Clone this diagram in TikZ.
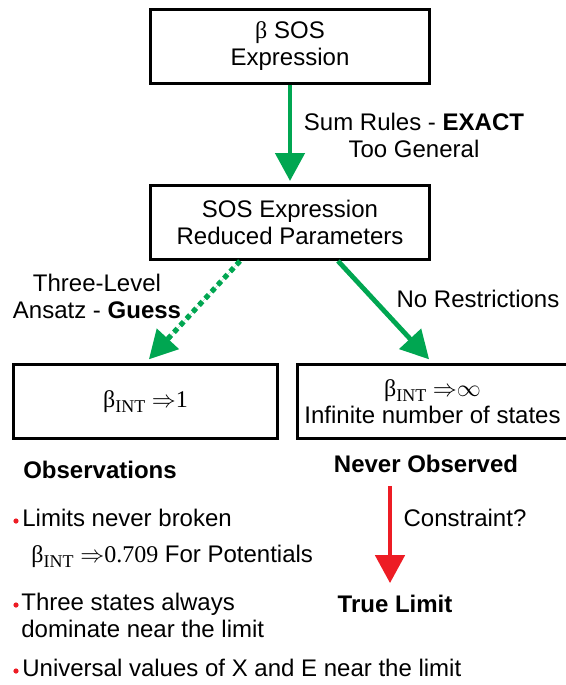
\documentclass[tikz,border=0pt]{standalone}
\usepackage{fontspec}
\setmainfont{Liberation Sans}
\newfontfamily\serifgr{Liberation Serif}
\usetikzlibrary{arrows.meta}

\definecolor{verde}{RGB}{0,166,81}
\definecolor{rojo}{RGB}{237,28,36}

% beta con subindice INT
\newcommand{\bint}{{\serifgr β\raisebox{-0.45ex}{\fontsize{9}{9}\selectfont INT}}}

\tikzset{
  texto/.style={font=\fontsize{12}{13.5}\selectfont, align=center},
  negrita/.style={texto, font=\fontsize{12}{13.5}\selectfont\bfseries},
  caja/.style={texto, draw, line width=1.5pt, minimum width=139.5pt, minimum height=37pt},
  flecha/.style={-{Triangle[length=14pt,width=14.5pt]}, line width=2.4pt, draw=verde, fill=verde},
  punto/.style={circle, fill=rojo, inner sep=0pt, minimum size=2.6pt},
}

\begin{document}
\begin{tikzpicture}[x=0.5pt,y=-0.5pt] % coordenadas en pixeles
    \useasboundingbox (0,0) rectangle (566,685);

    % Cajas
    \node[caja] (beta) at (290,46.5) {{\serifgr β} SOS\\Expression};
    \node[caja] (sos) at (290,222.5) {SOS Expression\\Reduced Parameters};
    \node[caja, minimum width=132pt] (tres) at (145.5,401.5) {\bint\ $\Rightarrow${\serifgr 1}};
    \node[caja, minimum width=132pt] (infin) at (432.5,401.5) {\bint\ $\Rightarrow$$\infty$\\Infinite number of states};

    % Flechas verdes
    \draw[flecha, shorten >=1.5pt] (beta) -- (sos);
    \draw[flecha, line width=2.6pt, dash pattern=on 2.6pt off 2pt, shorten >=2.5pt] ([xshift=-25pt]sos.south) -- (tres.north);
    \draw[flecha, shorten >=2.5pt] ([xshift=24pt]sos.south) -- (infin.north);

    % Etiquetas de las flechas
    \node[texto] (reglas) at (414,135.5) {Sum Rules - \textbf{EXACT}\\Too General};
    \node[texto] (ansatz) at (97,296) {Three-Level\\Ansatz - \textbf{Guess}};
    \node[texto] (norest) at (478,299) {No Restrictions};

    % Parte derecha
    \node[negrita] (nunca) at (426,464) {Never Observed};
    \node[negrita] (verdad) at (395,604) {True Limit};
    \node[texto] (constr) at (465,518) {Constraint?};
    \draw[flecha, draw=rojo, fill=rojo, shorten <=3pt, shorten >=2.5pt] ([xshift=-18pt]nunca.south) -- ([xshift=-2.5pt]verdad.north);

    % Observaciones
    \node[negrita] (obs) at (100,470) {Observations};
    \node[punto] (p1) at (16,521) {};
    \node[texto, anchor=west, inner sep=0pt] (lim) at (22,518) {Limits never broken};
    \node[texto, anchor=west, inner sep=0pt] (pot) at (31,556) {\bint\ $\Rightarrow${\serifgr 0.709} For Potentials};
    \node[punto] (p2) at (16,605) {};
    \node[texto, anchor=west, inner sep=0pt, align=left] (dom) at (21,615) {Three states always\\dominate near the limit};
    \node[punto] (p3) at (16,671) {};
    \node[texto, anchor=west, inner sep=0pt] (univ) at (22,668) {Universal values of X and E near the limit};

\end{tikzpicture}
\end{document}
